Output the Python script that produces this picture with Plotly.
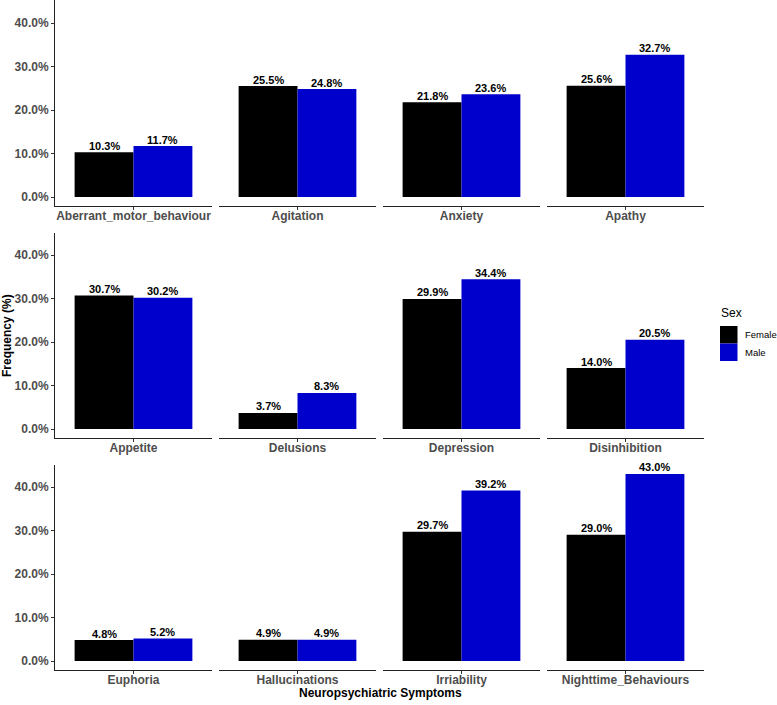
import plotly.graph_objects as go

symptoms = ["Aberrant_motor_behaviour", "Agitation", "Anxiety", "Apathy",
            "Appetite", "Delusions", "Depression", "Disinhibition",
            "Euphoria", "Hallucinations", "Irriability", "Nighttime_Behaviours"]
female = [10.3, 25.5, 21.8, 25.6, 30.7, 3.7, 29.9, 14.0, 4.8, 4.9, 29.7, 29.0]
male = [11.7, 24.8, 23.6, 32.7, 30.2, 8.3, 34.4, 20.5, 5.2, 4.9, 39.2, 43.0]
sexes = ["Female", "Male"]
colors = {"Female": "#000000", "Male": "#0000CD"}
y_ticks = [0, 0.1, 0.2, 0.3, 0.4]

W, H = 777, 705
L, R, T, B = 55, 704, 0, 670  # plot area in px
pw, ph = R - L, B - T
col_px = [(55 + 164 * c, 212 + 164 * c) for c in range(4)]
row_px = [(0, 206), (233, 438), (465, 670)]
PX_PER_UNIT = 435.0  # pixels per 100%
ZERO_PAD = 9        # px from panel bottom to y=0
BARGAP = 0.1


def px_x(p):
    return (p - L) / pw


def px_y(p):
    return (B - p) / ph


FONT = "Liberation Sans, Arial, sans-serif"
fig = go.Figure()
layout = {}
annotations = []
bar_w = (1 - BARGAP) / len(sexes)
for i, s in enumerate(symptoms):
    r, c = divmod(i, 4)
    n = i + 1
    xa = "x" if n == 1 else f"x{n}"
    ya = "y" if n == 1 else f"y{n}"
    for k, (sex, vals) in enumerate(zip(sexes, [female, male])):
        v = vals[i]
        fig.add_trace(go.Bar(
            x=[s], y=[v / 100], name=sex, xaxis=xa, yaxis=ya,
            marker=dict(color=colors[sex], line=dict(width=0)),
            legendgroup=sex, showlegend=False, offsetgroup=sex,
            hovertemplate=f"{sex}<br>%{{x}}: {v:.1f}%<extra></extra>",
        ))
        annotations.append(dict(
            text=f"<b>{v:.1f}%</b>", xref=xa, yref=ya,
            x=-(1 - BARGAP) / 2 + bar_w * (k + 0.5), y=v / 100,
            xanchor="center", yanchor="bottom", yshift=-1.5, showarrow=False,
            font=dict(family=FONT, size=11, color="black"),
        ))
    x0, x1 = col_px[c]
    y0, y1 = row_px[r]
    zero = y1 - ZERO_PAD
    layout[f"xaxis{'' if n == 1 else n}"] = dict(
        domain=[px_x(x0), px_x(x1)], anchor=ya,
        type="category", range=[-0.6, 0.6], showline=True, linecolor="#222222",
        linewidth=1, ticks="outside", ticklen=3, tickcolor="#333333",
        showgrid=False, zeroline=False, ticklabelstandoff=-4,
        tickfont=dict(family=FONT, size=12, color="#4D4D4D", weight="bold"),
    )
    layout[f"yaxis{'' if n == 1 else n}"] = dict(
        domain=[px_y(y1), px_y(y0)], anchor=xa,
        range=[-ZERO_PAD / PX_PER_UNIT, (zero - y0) / PX_PER_UNIT],
        tickvals=y_ticks, tickformat=".1%",
        showgrid=False, zeroline=False,
        showline=(c == 0), linecolor="#222222", linewidth=1,
        ticks="outside" if c == 0 else "", ticklen=3, tickcolor="#333333",
        showticklabels=(c == 0),
        tickfont=dict(family=FONT, size=12, color="#4D4D4D", weight="bold"),
    )

# Manual ggplot-style legend
shapes = []
annotations.append(
    dict(text="Sex", x=px_x(719), y=px_y(313), xref="paper", yref="paper",
         xanchor="left", yanchor="middle", showarrow=False,
         font=dict(size=12, family=FONT, color="black")))
key_top = 326
key_h = 17.5
for k, sex in enumerate(sexes):
    t = key_top + k * key_h
    shapes.append(dict(type="rect", xref="paper", yref="paper",
                       x0=px_x(720), x1=px_x(737.5), y0=px_y(t + key_h), y1=px_y(t),
                       fillcolor=colors[sex], line=dict(width=0)))
    annotations.append(dict(text=sex, x=px_x(743), y=px_y(t + key_h / 2),
                            xref="paper", yref="paper", xanchor="left", yanchor="middle",
                            showarrow=False, font=dict(size=9.5, family=FONT, color="black")))

annotations += [
    dict(text="<b>Frequency (%)</b>", x=px_x(7), y=px_y(335), xref="paper", yref="paper",
         showarrow=False, textangle=-90, xanchor="center", yanchor="middle",
         font=dict(size=12, family=FONT, color="black")),
    dict(text="<b>Neuropsychiatric Symptoms</b>", x=px_x(380), y=px_y(693), xref="paper",
         yref="paper", showarrow=False, xanchor="center", yanchor="middle",
         font=dict(size=12, family=FONT, color="black")),
]

fig.update_layout(**layout)
fig.update_layout(
    width=W, height=H, barmode="group", bargap=BARGAP, bargroupgap=0,
    plot_bgcolor="white", paper_bgcolor="white", showlegend=False,
    margin=dict(l=L, r=W - R, t=T, b=H - B, autoexpand=False),
    font=dict(family=FONT, color="black"),
    shapes=shapes, annotations=annotations,
)

fig.write_html("out.html", config={"displayModeBar": False},
               post_script="document.body.style.margin='0px';")
